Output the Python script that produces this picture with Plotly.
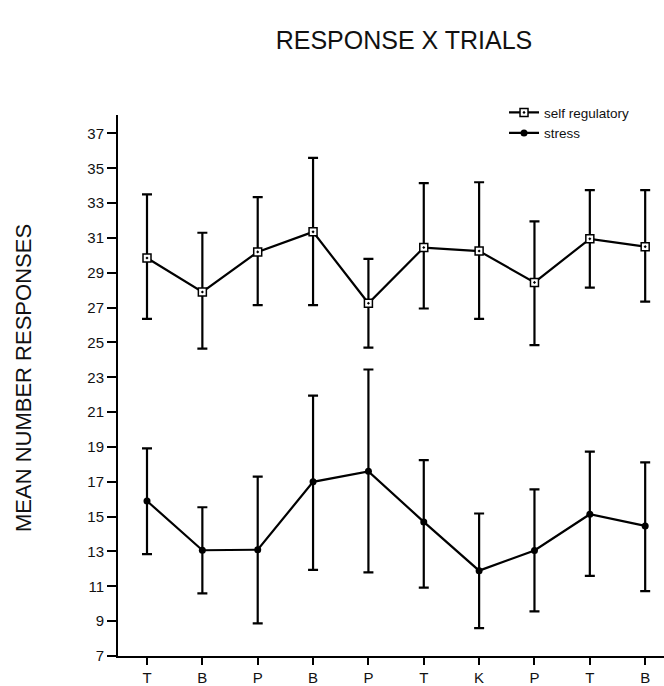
import plotly.graph_objects as go

trials = ["T", "B", "P", "B", "P", "T", "K", "P", "T", "B"]
positions = list(range(len(trials)))

self_reg_mean = [29.85, 27.9, 30.2, 31.35, 27.25, 30.45, 30.25, 28.45, 30.95, 30.5]
self_reg_high = [33.5, 31.3, 33.35, 35.6, 29.8, 34.15, 34.2, 31.95, 33.75, 33.75]
self_reg_low = [26.35, 24.65, 27.15, 27.15, 24.7, 26.95, 26.35, 24.85, 28.15, 27.35]

stress_mean = [15.9, 13.07, 13.1, 17.0, 17.6, 14.7, 11.9, 13.06, 15.14, 14.47]
stress_high = [18.92, 15.54, 17.3, 21.95, 23.45, 18.25, 15.18, 16.57, 18.73, 18.12]
stress_low = [12.85, 10.6, 8.87, 11.95, 11.8, 10.93, 8.6, 9.56, 11.6, 10.72]

y_ticks = list(range(7, 38, 2))

FONT = "Liberation Sans, Arial, sans-serif"


def err(mean, high, low):
    return dict(
        type="data",
        symmetric=False,
        array=[h - m for h, m in zip(high, mean)],
        arrayminus=[m - l for m, l in zip(mean, low)],
        color="black",
        thickness=2.2,
        width=5,
    )


fig = go.Figure()
fig.add_trace(go.Scatter(
    x=positions, y=self_reg_mean, name="self regulatory",
    mode="lines+markers",
    line=dict(color="black", width=2.2),
    marker=dict(symbol="square-dot", size=8, color="white",
                line=dict(color="black", width=1.5)),
    error_y=err(self_reg_mean, self_reg_high, self_reg_low),
))
fig.add_trace(go.Scatter(
    x=positions, y=stress_mean, name="stress",
    mode="lines+markers",
    line=dict(color="black", width=2.2),
    marker=dict(symbol="circle", size=7, color="black"),
    error_y=err(stress_mean, stress_high, stress_low),
))

fig.update_layout(
    width=664, height=686,
    margin=dict(l=118, r=0, t=115, b=30),
    paper_bgcolor="white", plot_bgcolor="white",
    font=dict(family=FONT, color="#111", size=15),
    title=dict(text="RESPONSE X TRIALS", x=404 / 664, xanchor="center",
               xref="container", y=1 - 40 / 686, yanchor="middle",
               yref="container",
               font=dict(family=FONT, size=25, color="#111")),
    showlegend=True,
    legend=dict(x=0.707, y=1.033, xanchor="left", yanchor="top",
                bgcolor="rgba(0,0,0,0)", font=dict(size=13.5, family=FONT),
                itemwidth=30, tracegroupgap=0),
    xaxis=dict(
        range=[-0.524, 9.34], tickmode="array", tickvals=positions,
        ticktext=trials, showgrid=False, zeroline=False,
        showline=True, linecolor="black", linewidth=2,
        ticks="outside", ticklen=7, tickwidth=2, tickcolor="black",
        tickfont=dict(size=15, family=FONT),
    ),
    yaxis=dict(
        range=[7, 38.06], tickmode="array", tickvals=y_ticks,
        showgrid=False, zeroline=False,
        showline=True, linecolor="black", linewidth=2,
        ticks="outside", ticklen=9, tickwidth=1.5, tickcolor="black",
        tickfont=dict(size=15, family=FONT),
    ),
    annotations=[dict(
        text="MEAN NUMBER RESPONSES", textangle=-90,
        xref="paper", yref="paper", x=(23 - 118) / 546, y=(657 - 379) / 541,
        xanchor="center", yanchor="middle", showarrow=False,
        font=dict(family=FONT, size=22, color="#111"),
    )],
)

fig.write_html("out.html",
               config={"displayModeBar": False},
               post_script="document.body.style.margin='0';document.body.style.overflow='hidden';")
